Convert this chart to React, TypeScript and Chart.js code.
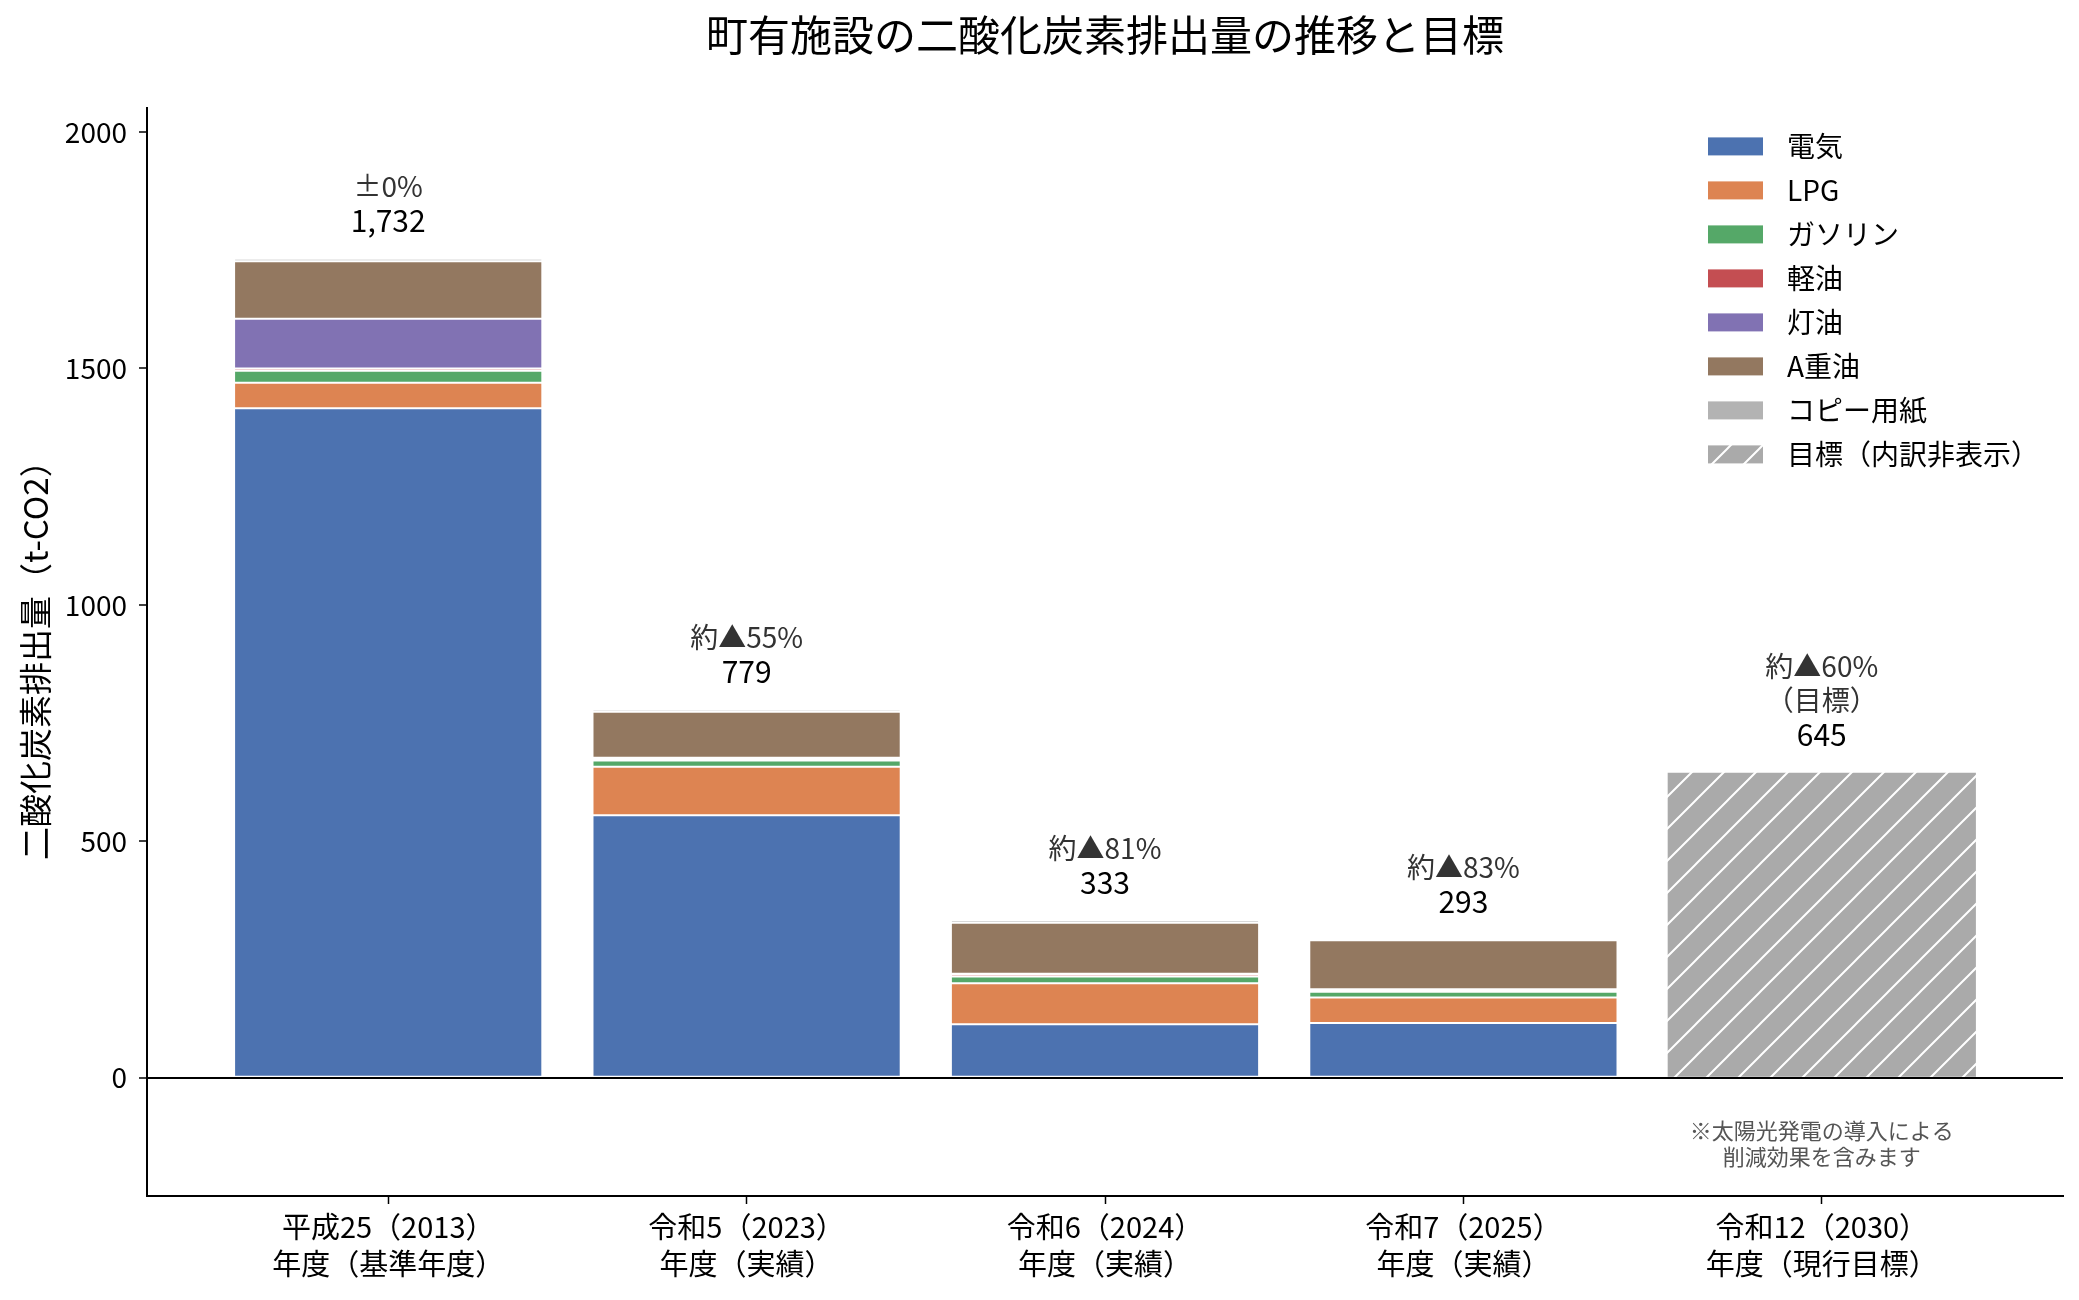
import { useEffect, useRef } from "react";
import { Chart, registerables } from "chart.js";

Chart.register(...registerables);

const FONT = "'Noto Sans CJK JP', 'Noto Sans', sans-serif";

// 年度ラベル（2行）
const categories = [
  ["平成25（2013）", "年度（基準年度）"],
  ["令和5（2023）", "年度（実績）"],
  ["令和6（2024）", "年度（実績）"],
  ["令和7（2025）", "年度（実績）"],
  ["令和12（2030）", "年度（現行目標）"],
];

// 排出量 (t-CO2)
const electricity = [1416, 555, 113, 116, null];
const lpg = [54, 103, 87, 54, null];
const gasoline = [25, 13, 14, 12, null];
const lightOil = [5, 4, 5, 4, null];
const kerosene = [105, 2, 1, 1, null];
const heavyOilA = [122, 97, 108, 104, null];
const copyPaper = [5, 5, 5, 2, null];
const target = [null, null, null, null, 645];

const changeLabels = [["±0%"], ["約▲55%"], ["約▲81%"], ["約▲83%"], ["約▲60%", "（目標）"]];
const yTicks = [0, 500, 1000, 1500, 2000];
const note = ["※太陽光発電の導入による", "削減効果を含みます"];

function hatchPattern(): CanvasPattern | string {
  const s = 32;
  const c = document.createElement("canvas");
  c.width = s;
  c.height = s;
  const g = c.getContext("2d");
  if (!g) return "#aaaaaa";
  g.fillStyle = "#aaaaaa";
  g.fillRect(0, 0, s, s);
  g.strokeStyle = "#ffffff";
  g.lineWidth = 2;
  g.beginPath();
  g.moveTo(-2, s + 2);
  g.lineTo(s + 2, -2);
  g.moveTo(-2, 2);
  g.lineTo(2, -2);
  g.moveTo(s - 2, s + 2);
  g.lineTo(s + 2, s - 2);
  g.stroke();
  return g.createPattern(c, "repeat") || "#aaaaaa";
}

export default function App() {
  const chartRef = useRef<HTMLCanvasElement>(null);
  const chartInstance = useRef<Chart | null>(null);

  useEffect(() => {
    document.body.style.margin = "0";
    if (!chartRef.current) return;
    if (chartInstance.current) chartInstance.current.destroy();
    const ctx = chartRef.current.getContext("2d");
    if (!ctx) return;

    Chart.defaults.font.family = FONT;
    Chart.defaults.color = "#000";

    const series = [
      { label: "電気", data: electricity, color: "#4c72b0" },
      { label: "LPG", data: lpg, color: "#dd8452" },
      { label: "ガソリン", data: gasoline, color: "#55a868" },
      { label: "軽油", data: lightOil, color: "#c44e52" },
      { label: "灯油", data: kerosene, color: "#8172b3" },
      { label: "A重油", data: heavyOilA, color: "#937860" },
      { label: "コピー用紙", data: copyPaper, color: "#b3b3b3" },
    ];

    const datasets: any[] = series.map((s) => ({
      label: s.label,
      data: s.data.map((v, i) => ({ x: i, y: v })),
      backgroundColor: s.color,
      borderColor: "rgba(255,255,255,0.9)",
      borderWidth: 1,
      borderSkipped: false,
    }));
    datasets.push({
      label: "目標（内訳非表示）",
      data: target.map((v, i) => ({ x: i, y: v })),
      backgroundColor: hatchPattern(),
      borderWidth: 0,
    });

    const annotations = {
      id: "annotations",
      afterDatasetsDraw(chart: Chart) {
        const c = chart.ctx;
        const xs = chart.scales.x;
        const ys = chart.scales.y;
        const area = chart.chartArea;
        c.save();
        c.textAlign = "center";
        c.textBaseline = "middle";
        categories.forEach((_, i) => {
          let total = 0;
          chart.data.datasets.forEach((d: any) => {
            const v = d.data[i]?.y;
            if (typeof v === "number") total += v;
          });
          const x = xs.getPixelForValue(i);
          const yTop = ys.getPixelForValue(total);
          const valueY = yTop - 38;
          c.fillStyle = "#000";
          c.font = `30px ${FONT}`;
          c.fillText(total.toLocaleString("en-US"), x, valueY);
          const lines = changeLabels[i];
          c.fillStyle = "#333";
          c.font = `28px ${FONT}`;
          for (let k = 0; k < lines.length; k++) {
            c.fillText(lines[lines.length - 1 - k], x, valueY - 34 * (k + 1));
          }
        });
        // 注記
        const nx = xs.getPixelForValue(4);
        c.fillStyle = "#555";
        c.font = `22px ${FONT}`;
        c.fillText(note[0], nx, 1131);
        c.fillText(note[1], nx, 1157);

        // 凡例
        const lx = area.right - 355;
        c.textAlign = "left";
        chart.data.datasets.forEach((d: any, k) => {
          const cy = area.top + 38 + k * 44;
          c.fillStyle = d.backgroundColor;
          c.fillRect(lx, cy - 9, 55, 18);
          c.fillStyle = "#000";
          c.font = `28px ${FONT}`;
          c.fillText(d.label, lx + 79, cy);
        });
        c.restore();
      },
    };

    chartInstance.current = new Chart(ctx, {
      type: "bar",
      data: { datasets },
      options: {
        responsive: true,
        maintainAspectRatio: false,
        animation: false,
        layout: { padding: { right: 16 } },
        datasets: { bar: { categoryPercentage: 1, barPercentage: 0.86 } },
        plugins: {
          legend: { display: false },
          tooltip: { enabled: false },
          title: {
            display: true,
            fullSize: false,
            text: "町有施設の二酸化炭素排出量の推移と目標",
            font: { size: 42, weight: "normal" },
            color: "#000",
            padding: { top: 10, bottom: 48 },
          },
        },
        scales: {
          x: {
            type: "linear",
            stacked: true,
            offset: false,
            min: -0.673,
            max: 4.673,
            afterBuildTicks: (scale: any) => {
              scale.ticks = categories.map((_, i) => ({ value: i }));
            },
            afterFit: (scale: any) => {
              scale.height = 104;
            },
            ticks: {
              autoSkip: false,
              maxRotation: 0,
              padding: 4,
              font: { size: 29, lineHeight: 1.28 },
              color: "#000",
              callback: (v: any) => categories[v as number],
            },
            grid: {
              offset: false,
              drawOnChartArea: false,
              drawTicks: true,
              tickLength: 8,
              tickColor: "#000",
              tickWidth: 1.5,
            },
            border: { display: true, color: "#000", width: 2 },
          },
          y: {
            stacked: true,
            min: -250,
            max: 2050,
            afterBuildTicks: (scale: any) => {
              scale.ticks = yTicks.map((v) => ({ value: v }));
            },
            afterFit: (scale: any) => {
              scale.width = 147;
            },
            ticks: {
              padding: 12,
              font: { size: 28 },
              color: "#000",
              callback: (v: any) => String(v),
            },
            grid: {
              drawOnChartArea: true,
              color: (c: any) => (c.tick && c.tick.value === 0 ? "#000" : "rgba(0,0,0,0)"),
              lineWidth: 2,
              tickLength: 8,
              tickColor: "#000",
              tickWidth: 1.5,
            },
            border: { display: true, color: "#000", width: 2 },
            title: {
              display: true,
              text: "二酸化炭素排出量（t-CO2）",
              font: { size: 33 },
              color: "#000",
              padding: { top: 16, bottom: 0 },
            },
          },
        },
      },
      plugins: [annotations],
    });

    return () => {
      if (chartInstance.current) {
        chartInstance.current.destroy();
        chartInstance.current = null;
      }
    };
  }, []);

  return (
    <div style={{ width: 2079, height: 1300, position: "relative", background: "#fff" }}>
      <canvas ref={chartRef} />
    </div>
  );
}
